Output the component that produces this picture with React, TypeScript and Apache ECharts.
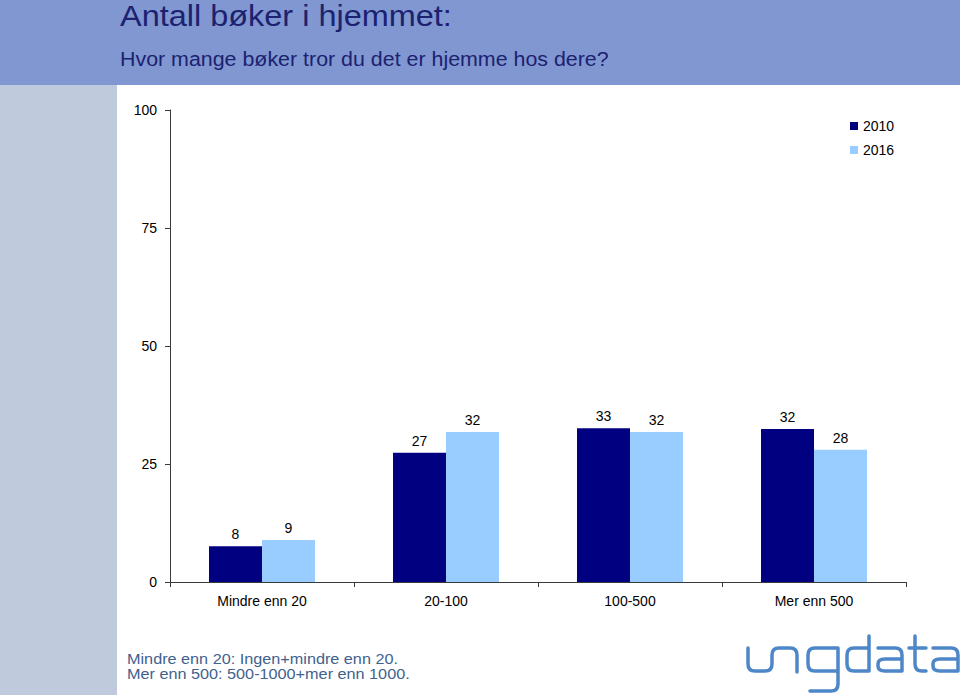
import React, { useEffect, useRef } from "react";
import * as echarts from "echarts";

const categories = ["Mindre enn 20", "20-100", "100-500", "Mer enn 500"];
const seriesNames = ["2010", "2016"];
const values2010 = [7.6, 27.4, 32.6, 32.4];
const values2016 = [8.9, 31.8, 31.8, 28.0];
const yTicks = { min: 0, max: 100, interval: 25 };
const titleText = "Antall bøker i hjemmet:";
const subtitleText = "Hvor mange bøker tror du det er hjemme hos dere?";
const footnoteLines = [
  "Mindre enn 20: Ingen+mindre enn 20.",
  "Mer enn 500: 500-1000+mer enn 1000.",
];
const logoText = "ungdata";

const FONT = "'Liberation Sans', Arial, Helvetica, sans-serif";

const LOGO_D =
  "M748,648 V664 Q748,671 755,671 H765 Q772,671 772,664 V655 Q772,648 779,648 H790 Q797,648 797,655 V672 " +
  "M838,648 H815 Q808,648 808,655 V664 Q808,671 815,671 H838 M838,648 V684 Q838,691 831,691 H810 " +
  "M869,636 V671 H854 Q847,671 847,664 V655 Q847,648 854,648 H869 " +
  "M878,648 H895 Q902,648 902,655 V671 H885 Q878,671 878,666 V664 Q878,659 885,659 H902 " +
  "M915,636 V664 Q915,671 922,671 H926 M909,648 H926 " +
  "M933,648 H951 Q958,648 958,655 V671 H940 Q933,671 933,666 V664 Q933,659 940,659 H958";

export default function App() {
  const ref = useRef<HTMLDivElement>(null);

  useEffect(() => {
    if (!ref.current) return;
    echarts.graphic.registerShape("ungdataLogo", echarts.graphic.extendPath(LOGO_D, {}));
    const chart = echarts.init(ref.current, undefined, { renderer: "svg" });
    const labelStyle = {
      show: true,
      position: "top" as const,
      distance: 5,
      fontSize: 14,
      color: "#000",
      fontFamily: FONT,
      formatter: (p: any) => String(Math.round(p.value)),
    };
    chart.setOption({
      animation: false,
      backgroundColor: "#ffffff",
      textStyle: { fontFamily: FONT },
      graphic: [
        { type: "rect", shape: { x: 0, y: 0, width: 960, height: 85 }, style: { fill: "#8097d1" }, z: 0 },
        { type: "rect", shape: { x: 0, y: 85, width: 117, height: 610 }, style: { fill: "#bfcbdd" }, z: 0 },
        {
          type: "text",
          x: 120,
          y: 16,
          scaleX: 1.12,
          style: { text: titleText, fontSize: 29, fill: "#1c2270", fontFamily: FONT, verticalAlign: "middle", align: "left" },
        },
        {
          type: "text",
          x: 120,
          y: 59,
          scaleX: 1.07,
          style: { text: subtitleText, fontSize: 20, fill: "#1c2270", fontFamily: FONT, verticalAlign: "middle", align: "left" },
        },
        {
          type: "text",
          x: 127,
          y: 651,
          scaleX: 1.12,
          style: {
            text: footnoteLines.join("\n"),
            fontSize: 14.5,
            lineHeight: 15,
            fill: "#3f628e",
            fontFamily: FONT,
            verticalAlign: "top",
            align: "left",
          },
        },
        {
          type: "ungdataLogo",
          x: 0,
          y: 0,
          name: logoText,
          style: { stroke: "#4d87c7", lineWidth: 3.5, fill: "none", lineCap: "round", lineJoin: "round" },
        },
      ],
      legend: {
        orient: "vertical",
        left: 845,
        top: 114,
        icon: "rect",
        itemWidth: 8,
        itemHeight: 8,
        itemGap: 10,
        itemStyle: { borderWidth: 0 },
        textStyle: { fontSize: 14, color: "#000", fontFamily: FONT },
        data: seriesNames,
      },
      grid: { left: 170, right: 54, top: 110, bottom: 113, containLabel: false },
      xAxis: {
        type: "category",
        data: categories,
        axisLine: { show: true, lineStyle: { color: "#3a3a3a", width: 1 } },
        axisTick: { show: true, length: 5, alignWithLabel: false, lineStyle: { color: "#3a3a3a" } },
        axisLabel: { fontSize: 14, color: "#000", margin: 12, fontFamily: FONT, interval: 0 },
        splitLine: { show: false },
      },
      yAxis: {
        type: "value",
        min: yTicks.min,
        max: yTicks.max,
        interval: yTicks.interval,
        axisLine: { show: true, lineStyle: { color: "#3a3a3a", width: 1 } },
        axisTick: { show: true, length: 5, lineStyle: { color: "#3a3a3a" } },
        axisLabel: { fontSize: 14, color: "#000", margin: 13, fontFamily: FONT },
        splitLine: { show: false },
      },
      series: [
        {
          name: seriesNames[0],
          type: "bar",
          data: values2010,
          barWidth: 53,
          barGap: "0%",
          itemStyle: { color: "#000080" },
          label: labelStyle,
        },
        {
          name: seriesNames[1],
          type: "bar",
          data: values2016,
          barWidth: 53,
          barGap: "0%",
          itemStyle: { color: "#99ccff" },
          label: labelStyle,
        },
      ],
    });
    return () => chart.dispose();
  }, []);

  return (
    <div
      ref={ref}
      style={{ position: "fixed", left: 0, top: 0, width: 960, height: 695 }}
    />
  );
}
